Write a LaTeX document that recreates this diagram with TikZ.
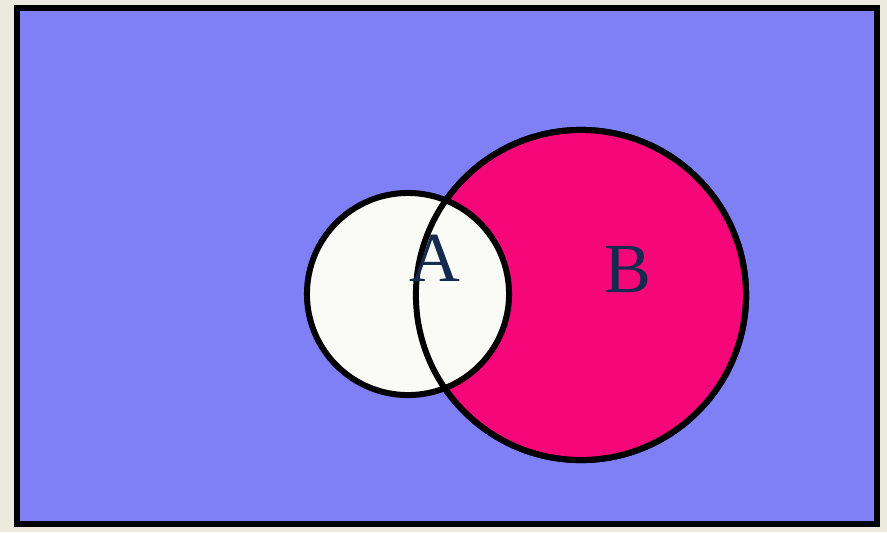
\documentclass[tikz,border=0pt]{standalone}
\usepackage{fontspec}
\setmainfont{Liberation Serif}
\usepackage{xcolor}
\definecolor{paper}{HTML}{ECE9DE}
\definecolor{universe}{HTML}{8080F6}
\definecolor{setB}{HTML}{F5077A}
\definecolor{setA}{HTML}{FAFAF6}
\definecolor{ink}{HTML}{142A4E}

\begin{document}
\begin{tikzpicture}[x=0.01cm, y=-0.01cm, every node/.style={font=\fontsize{20}{24}\selectfont}]
  \useasboundingbox[fill=paper] (0,0) rectangle (887,532);
  \node[draw, line width=1.7pt, fill=universe, minimum width=8.6cm, minimum height=5.16cm, inner sep=0pt] (U) at (447,266) {};
  \node[draw, circle, line width=1.7pt, fill=setB, minimum size=3.3cm, inner sep=0pt] (B) at (581,295) {};
  \node[draw, circle, line width=1.7pt, fill=setA, minimum size=2.02cm, inner sep=0pt] (A) at (408,294) {};
  % outline of B again over the white of A
  \draw[line width=1.7pt] (B.center) circle (1.65cm);
  \node[text=ink] (labA) at (435,258) {A};
  \node[text=ink] (labB) at (628,270) {B};
\end{tikzpicture}
\end{document}
